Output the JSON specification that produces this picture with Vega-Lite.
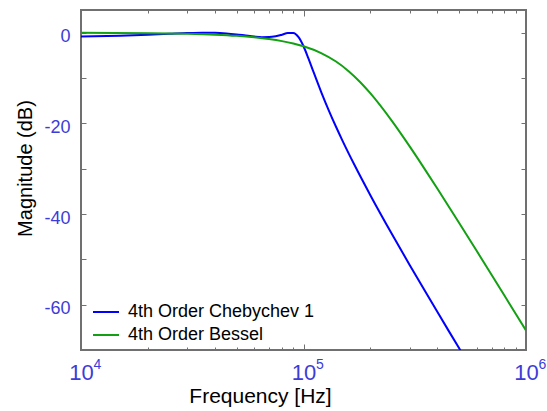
{
  "$schema": "https://vega.github.io/schema/vega-lite/v6.json",
  "width": 445,
  "height": 340,
  "autosize": {"type": "none"},
  "padding": {"left": 81, "top": 10, "right": 21, "bottom": 61},
  "background": "white",
  "config": {
    "view": {"stroke": "#707070", "strokeWidth": 2},
    "font": "Liberation Sans",
    "axis": {"grid": false, "domain": false, "tickColor": "#707070", "tickWidth": 1, "labelColor": "#3c3cd8", "labelFont": "Liberation Sans", "titleFont": "Liberation Sans", "titleColor": "black", "titleFontWeight": "normal", "labelFlush": false, "labelOverlap": false}
  },
  "data": {
    "values": [
      {"f": 10000, "db": -0.847, "series": "4th Order Chebychev 1"},
      {"f": 15000, "db": -0.674, "series": "4th Order Chebychev 1"},
      {"f": 20000, "db": -0.466, "series": "4th Order Chebychev 1"},
      {"f": 25000, "db": -0.256, "series": "4th Order Chebychev 1"},
      {"f": 30000, "db": -0.088, "series": "4th Order Chebychev 1"},
      {"f": 35000, "db": -0.004, "series": "4th Order Chebychev 1"},
      {"f": 40000, "db": -0.031, "series": "4th Order Chebychev 1"},
      {"f": 45000, "db": -0.170, "series": "4th Order Chebychev 1"},
      {"f": 50000, "db": -0.390, "series": "4th Order Chebychev 1"},
      {"f": 55000, "db": -0.639, "series": "4th Order Chebychev 1"},
      {"f": 60000, "db": -0.857, "series": "4th Order Chebychev 1"},
      {"f": 65000, "db": -0.985, "series": "4th Order Chebychev 1"},
      {"f": 70000, "db": -0.974, "series": "4th Order Chebychev 1"},
      {"f": 75000, "db": -0.791, "series": "4th Order Chebychev 1"},
      {"f": 80000, "db": -0.451, "series": "4th Order Chebychev 1"},
      {"f": 85000, "db": -0.086, "series": "4th Order Chebychev 1"},
      {"f": 90000, "db": -0.078, "series": "4th Order Chebychev 1"},
      {"f": 95000, "db": -1.0, "series": "4th Order Chebychev 1"},
      {"f": 100000, "db": -2.993, "series": "4th Order Chebychev 1"},
      {"f": 105000, "db": -5.556, "series": "4th Order Chebychev 1"},
      {"f": 110000, "db": -8.201, "series": "4th Order Chebychev 1"},
      {"f": 120000, "db": -13.045, "series": "4th Order Chebychev 1"},
      {"f": 130000, "db": -17.182, "series": "4th Order Chebychev 1"},
      {"f": 140000, "db": -20.759, "series": "4th Order Chebychev 1"},
      {"f": 150000, "db": -23.914, "series": "4th Order Chebychev 1"},
      {"f": 170000, "db": -29.317, "series": "4th Order Chebychev 1"},
      {"f": 200000, "db": -35.909, "series": "4th Order Chebychev 1"},
      {"f": 250000, "db": -44.482, "series": "4th Order Chebychev 1"},
      {"f": 300000, "db": -51.24, "series": "4th Order Chebychev 1"},
      {"f": 350000, "db": -56.842, "series": "4th Order Chebychev 1"},
      {"f": 400000, "db": -61.64, "series": "4th Order Chebychev 1"},
      {"f": 450000, "db": -65.839, "series": "4th Order Chebychev 1"},
      {"f": 500000, "db": -69.575, "series": "4th Order Chebychev 1"},
      {"f": 550000, "db": -72.94, "series": "4th Order Chebychev 1"},
      {"f": 10000, "db": -0.028, "series": "4th Order Bessel"},
      {"f": 20000, "db": -0.111, "series": "4th Order Bessel"},
      {"f": 30000, "db": -0.251, "series": "4th Order Bessel"},
      {"f": 40000, "db": -0.449, "series": "4th Order Bessel"},
      {"f": 50000, "db": -0.705, "series": "4th Order Bessel"},
      {"f": 60000, "db": -1.024, "series": "4th Order Bessel"},
      {"f": 70000, "db": -1.409, "series": "4th Order Bessel"},
      {"f": 80000, "db": -1.864, "series": "4th Order Bessel"},
      {"f": 90000, "db": -2.396, "series": "4th Order Bessel"},
      {"f": 100000, "db": -3.011, "series": "4th Order Bessel"},
      {"f": 120000, "db": -4.509, "series": "4th Order Bessel"},
      {"f": 140000, "db": -6.370, "series": "4th Order Bessel"},
      {"f": 160000, "db": -8.544, "series": "4th Order Bessel"},
      {"f": 180000, "db": -10.928, "series": "4th Order Bessel"},
      {"f": 200000, "db": -13.408, "series": "4th Order Bessel"},
      {"f": 250000, "db": -19.521, "series": "4th Order Bessel"},
      {"f": 300000, "db": -25.094, "series": "4th Order Bessel"},
      {"f": 350000, "db": -30.042, "series": "4th Order Bessel"},
      {"f": 400000, "db": -34.437, "series": "4th Order Bessel"},
      {"f": 500000, "db": -41.925, "series": "4th Order Bessel"},
      {"f": 600000, "db": -48.124, "series": "4th Order Bessel"},
      {"f": 700000, "db": -53.401, "series": "4th Order Bessel"},
      {"f": 800000, "db": -57.991, "series": "4th Order Bessel"},
      {"f": 900000, "db": -62.050, "series": "4th Order Bessel"},
      {"f": 1000000, "db": -65.686, "series": "4th Order Bessel"}
    ]
  },
  "layer": [
    {
      "mark": {"type": "line", "strokeWidth": 2, "clip": true, "interpolate": "monotone"},
      "encoding": {
        "x": {"field": "f", "type": "quantitative", "scale": {"type": "log", "domain": [10000, 1000000], "nice": false},
          "axis": {"orient": "bottom", "values": [10000, 100000, 1000000], "tickSize": -6, "labelPadding": 18, "labelBaseline": "top", "labelAlign": "center", "labelFontSize": 22,
            "labelExpr": "'10'",
            "title": "Frequency [Hz]", "titleFontSize": 21, "titleX": 179, "titleY": 52, "titleBaseline": "alphabetic", "titleAnchor": null}},
        "y": {"field": "db", "type": "quantitative", "scale": {"domain": [-70, 5], "nice": false, "zero": false},
          "axis": {"orient": "left", "values": [-60, -50, -40, -30, -20, -10, 0], "tickSize": -5, "labelPadding": 16, "labelFontSize": 18, "labelOffset": 4,
            "labelExpr": "datum.value % 20 == 0 ? '' + datum.value : ''",
            "title": "Magnitude (dB)", "titleFontSize": 20, "titleAngle": -90, "titleX": -50, "titleY": 158, "titleBaseline": "alphabetic", "titleAlign": "center"}},
        "color": {"field": "series", "type": "nominal",
          "scale": {"domain": ["4th Order Chebychev 1", "4th Order Bessel"], "range": ["#0000ff", "#13a013"]},
          "legend": {"orient": "none", "legendX": 11, "legendY": 288, "title": null, "symbolType": "stroke", "symbolSize": 676, "symbolStrokeWidth": 2,
            "labelFontSize": 18, "labelColor": "black", "labelFont": "Liberation Sans", "labelOffset": 8, "rowPadding": -3, "padding": 0, "labelLimit": 400}}
      }
    },
    {
      "mark": {"type": "line", "opacity": 0},
      "encoding": {
        "x": {"field": "f", "type": "quantitative", "axis": {"orient": "bottom", "values": [20000, 30000, 40000, 50000, 60000, 70000, 80000, 90000, 200000, 300000, 400000, 500000, 600000, 700000, 800000, 900000], "tickSize": -3, "labels": false, "title": null}},
        "y": {"field": "db", "type": "quantitative", "axis": {"orient": "right", "values": [-60, -50, -40, -30, -20, -10, 0], "tickSize": -5, "labels": false, "title": null}}
      }
    },
    {
      "mark": {"type": "line", "opacity": 0},
      "encoding": {
        "x": {"field": "f", "type": "quantitative", "axis": {"orient": "top", "values": [10000, 100000, 1000000], "tickSize": -6, "labels": false, "title": null}},
        "y": {"field": "db", "type": "quantitative", "axis": null}
      }
    },
    {
      "mark": {"type": "line", "opacity": 0},
      "encoding": {
        "x": {"field": "f", "type": "quantitative", "axis": {"orient": "top", "values": [20000, 30000, 40000, 50000, 60000, 70000, 80000, 90000, 200000, 300000, 400000, 500000, 600000, 700000, 800000, 900000], "tickSize": -3, "labels": false, "title": null}},
        "y": {"field": "db", "type": "quantitative", "axis": null}
      }
    },
    {
      "mark": {"type": "line", "opacity": 0},
      "encoding": {
        "x": {"field": "f", "type": "quantitative", "axis": {"orient": "bottom", "values": [10000, 100000, 1000000], "ticks": false, "tickSize": 0, "labelPadding": 7, "labelBaseline": "top", "labelAlign": "center", "labelFontSize": 14, "labelOffset": 16,
          "labelExpr": "datum.value == 10000 ? '4' : (datum.value == 100000 ? '5' : '6')", "title": null}},
        "y": {"field": "db", "type": "quantitative", "axis": null}
      }
    }
  ],
  "resolve": {"axis": {"x": "independent", "y": "independent"}}
}
